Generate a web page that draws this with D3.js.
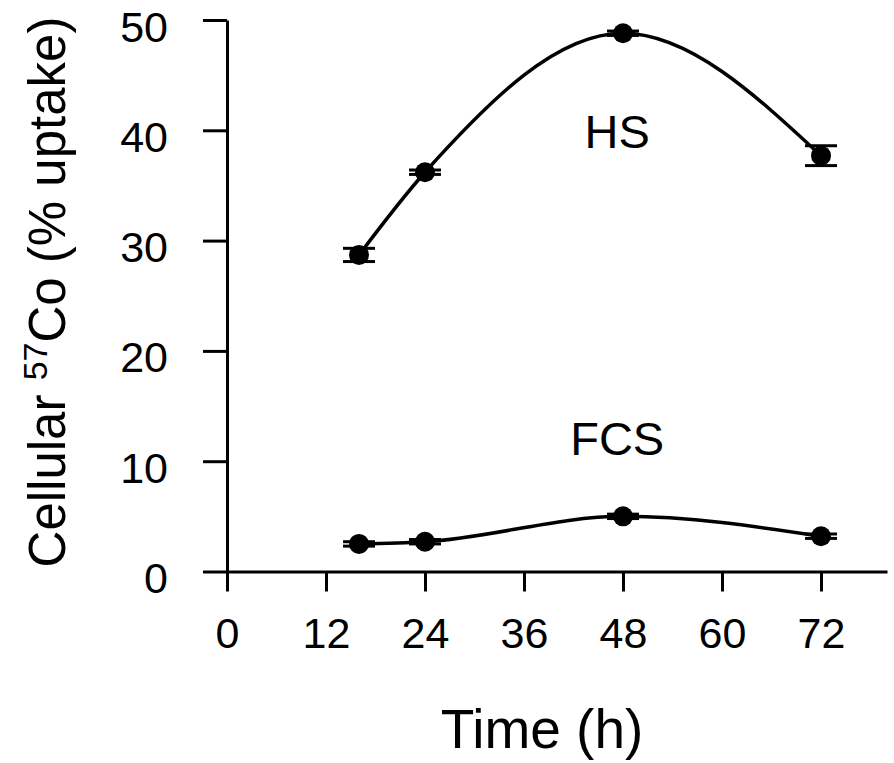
<!DOCTYPE html>
<html>
<head>
<meta charset="utf-8">
<script src="https://cdn.jsdelivr.net/npm/d3@7"></script>
<style>
  body { margin: 0; background: #fff; }
  text { font-family: "Liberation Sans", Arial, sans-serif; fill: #000; }
</style>
</head>
<body>
<div id="chart"></div>
<script>
// time points (h)
const hours = [16, 24, 48, 72];

// cellular 57Co uptake (%)
const hsValues = [28.7, 36.2, 48.8, 37.7];
const hsErrors = [0.6, 0.2, 0.2, 0.9];
const fcsValues = [2.5, 2.7, 5.0, 3.2];
const fcsErrors = [0.2, 0.2, 0.2, 0.2];

const xTicks = [0, 12, 24, 36, 48, 60, 72];
const yTicks = [0, 10, 20, 30, 40, 50];

// series labels, placed in data coordinates
const seriesNames = ["HS", "FCS"];
const labelHours = [47.3, 47.3];
const labelValues = [38.4, 10.6];

const W = 894, H = 763;

const svg = d3
  .select("#chart")
  .append("svg")
  .attr("width", W)
  .attr("height", H);

const x = d3.scaleLinear().domain([0, 80]).range([227, 887]);
const y = d3.scaleLinear().domain([0, 50]).range([571.5, 20]);

// x axis
const xAxis = svg
  .append("g")
  .attr("transform", "translate(0," + y(0) + ")")
  .call(d3.axisBottom(x).tickValues(xTicks).tickSize(20).tickSizeOuter(0));

xAxis.selectAll("line, path").attr("stroke", "#000").attr("stroke-width", 3);
xAxis
  .selectAll("text")
  .attr("y", 76)
  .attr("dy", 0)
  .style("font-size", "43px");

// y axis
const yAxis = svg
  .append("g")
  .attr("transform", "translate(" + x(0) + ",0)")
  .call(d3.axisLeft(y).tickValues(yTicks).tickSize(24).tickSizeOuter(0));

yAxis.selectAll("line, path").attr("stroke", "#000").attr("stroke-width", 3);
yAxis
  .selectAll("text")
  .attr("x", -59)
  .attr("dy", 21)
  .style("font-size", "43px");

const line = d3
  .line()
  .x((d) => x(d[0]))
  .y((d) => y(d[1]))
  .curve(d3.curveMonotoneX);

const drawSeries = (values, errors) => {
  const pts = hours.map((h, i) => [h, values[i], errors[i]]);

  svg
    .append("path")
    .datum(pts)
    .attr("fill", "none")
    .attr("stroke", "#000")
    .attr("stroke-width", 3.5)
    .attr("d", line);

  const g = svg.append("g");

  // error bars
  pts.forEach((p) => {
    const cx = x(p[0]);
    const hi = y(p[1] + p[2]),
      lo = y(p[1] - p[2]);
    g.append("line")
      .attr("x1", cx).attr("x2", cx)
      .attr("y1", hi).attr("y2", lo)
      .attr("stroke", "#000").attr("stroke-width", 3);
    [hi, lo].forEach((yy) => {
      g.append("line")
        .attr("x1", cx - 16).attr("x2", cx + 16)
        .attr("y1", yy).attr("y2", yy)
        .attr("stroke", "#000").attr("stroke-width", 3);
    });
  });

  g.selectAll("circle")
    .data(pts)
    .enter()
    .append("circle")
    .attr("cx", (d) => x(d[0]))
    .attr("cy", (d) => y(d[1]))
    .attr("r", 10)
    .attr("fill", "#000");
};

drawSeries(hsValues, hsErrors);
drawSeries(fcsValues, fcsErrors);

// series labels
seriesNames.forEach((name, i) => {
  svg
    .append("text")
    .attr("x", x(labelHours[i]))
    .attr("y", y(labelValues[i]))
    .attr("text-anchor", "middle")
    .style("font-size", "47px")
    .text(name);
});

// axis titles
svg
  .append("text")
  .attr("x", 542)
  .attr("y", 748)
  .attr("text-anchor", "middle")
  .style("font-size", "55px")
  .text("Time (h)");

const yTitle = svg
  .append("text")
  .attr("transform", "translate(65,292) rotate(-90)")
  .attr("text-anchor", "middle")
  .style("font-size", "51px");

yTitle.append("tspan").text("Cellular ");
yTitle
  .append("tspan")
  .attr("dy", -18)
  .style("font-size", "34px")
  .text("57");
yTitle.append("tspan").attr("dy", 18).text("Co (% uptake)");
</script>
</body>
</html>
